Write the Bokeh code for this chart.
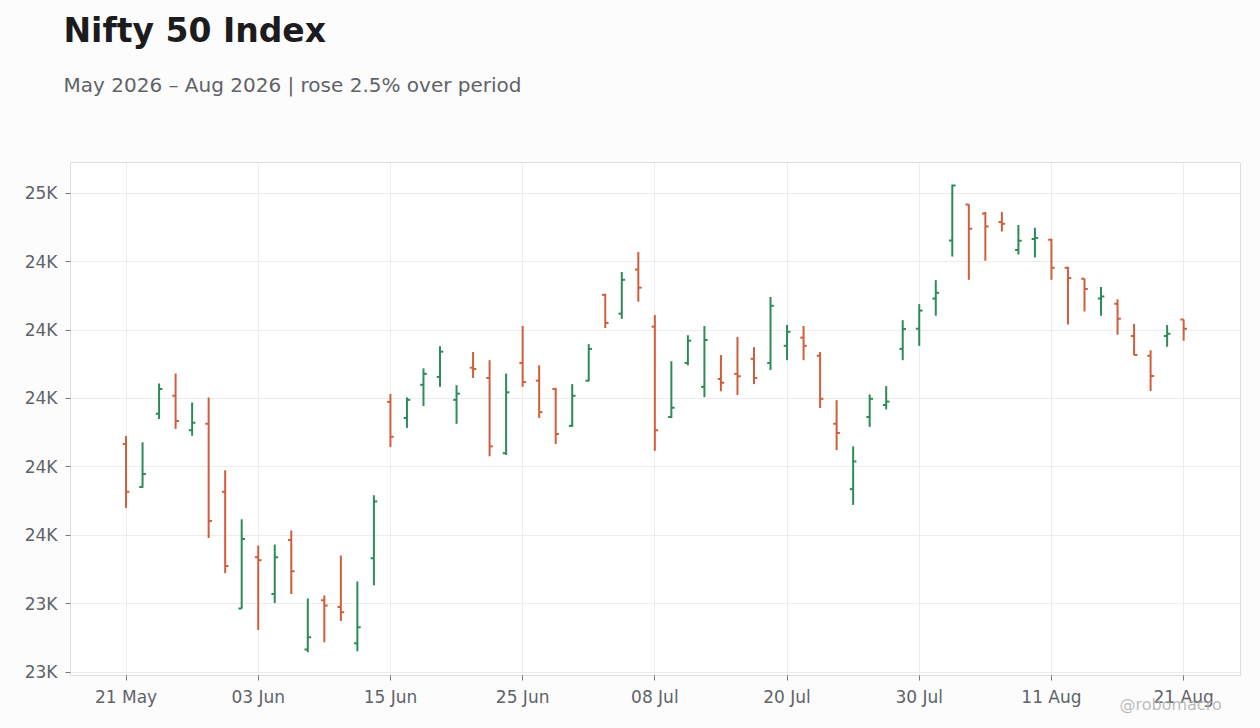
import pandas as pd
from bokeh.plotting import figure
from bokeh.models import ColumnDataSource, Range1d, FixedTicker, Label
from bokeh.embed import file_html
from bokeh.resources import INLINE

# trading days, 21 May - 21 Aug 2026 (no session on 25 May and 3 Jul)
dates = pd.bdate_range("2026-05-21", "2026-08-21", freq="C",
                       holidays=["2026-05-25", "2026-07-03"])

opens = [23867, 23741, 23955, 24008, 23907, 23926, 23727, 23386, 23536, 23428,
         23586, 23266, 23410, 23390, 23284, 23533, 23990, 23943, 24040, 24063,
         23996, 24090, 24060, 23840, 24104, 24052, 24028, 23920, 24052, 24303,
         24248, 24377, 24210, 23946, 24104, 24034, 24057, 24072, 24116, 24104,
         24154, 24178, 24125, 23926, 23735, 23946, 23981, 24145, 24204, 24292,
         24462, 24567, 24541, 24516, 24434, 24466, 24464, 24382, 24350, 24292,
         24277, 24183, 24125, 24183, 24231]
highs = [23890, 23872, 24044, 24073, 23988, 24003, 23790, 23647, 23570, 23573,
         23614, 23415, 23424, 23541, 23465, 23717, 24013, 24003, 24088, 24153,
         24039, 24136, 24112, 24073, 24212, 24097, 24031, 24042, 24159, 24306,
         24370, 24428, 24244, 24109, 24185, 24212, 24127, 24180, 24150, 24297,
         24215, 24212, 24136, 23995, 23860, 24012, 24036, 24229, 24276, 24346,
         24625, 24568, 24545, 24545, 24507, 24499, 24467, 24385, 24350, 24326,
         24290, 24218, 24141, 24215, 24231]
lows = [23680, 23739, 23940, 23911, 23891, 23592, 23489, 23386, 23323, 23402,
        23428, 23258, 23287, 23349, 23261, 23454, 23858, 23914, 23978, 24034,
        23926, 24060, 23831, 23835, 24034, 23943, 23867, 23917, 24050, 24206,
        24233, 24283, 23847, 23943, 24097, 24004, 24021, 24010, 24042, 24083,
        24112, 24112, 23972, 23849, 23689, 23917, 23968, 24112, 24154, 24242,
        24415, 24347, 24403, 24488, 24421, 24412, 24347, 24216, 24254, 24242,
        24186, 24127, 24022, 24151, 24169]
closes = [23727, 23779, 24028, 23934, 23929, 23642, 23510, 23589, 23527, 23536,
          23495, 23302, 23395, 23375, 23331, 23699, 23888, 23996, 24072, 24137,
          24014, 24086, 23860, 24018, 24048, 23960, 23896, 24008, 24145, 24221,
          24347, 24324, 23907, 23973, 24169, 24171, 24046, 24065, 24060, 24271,
          24195, 24154, 23999, 23899, 23816, 23999, 23991, 24203, 24257, 24309,
          24623, 24496, 24503, 24511, 24461, 24469, 24382, 24352, 24320, 24298,
          24233, 24127, 24066, 24189, 24204]

y_ticks = [23200, 23400, 23600, 23800, 24000, 24200, 24400, 24600]
y_tick_labels = ["23K", "23K", "24K", "24K", "24K", "24K", "24K", "25K"]
x_tick_step = 8

UP = "#2e8b57"
DOWN = "#cf5f3c"
TICK_W = 0.2

idx = list(range(len(dates)))
src = ColumnDataSource(dict(
    x=idx,
    xl=[i - TICK_W for i in idx],
    xr=[i + TICK_W for i in idx],
    o=opens, h=highs, l=lows, c=closes,
    color=[UP if c >= o else DOWN for o, c in zip(opens, closes)],
))

p = figure(width=1260, height=728, title=None, toolbar_location=None,
           output_backend="svg",
           x_range=Range1d(-3.36, 67.44), y_range=Range1d(23190, 24690),
           min_border_left=70, min_border_right=20,
           min_border_top=162, min_border_bottom=53)
p.background_fill_color = "white"
p.border_fill_color = "#fcfcfc"
p.outline_line_color = "#dddddd"

p.segment("x", "l", "x", "h", source=src, color="color", line_width=2)
p.segment("xl", "o", "x", "o", source=src, color="color", line_width=2)
p.segment("x", "c", "xr", "c", source=src, color="color", line_width=2)

x_ticks = idx[::x_tick_step]
p.xaxis.ticker = FixedTicker(ticks=x_ticks)
p.xaxis.major_label_overrides = {i: dates[i].strftime("%d %b") for i in x_ticks}
p.yaxis.ticker = FixedTicker(ticks=y_ticks)
p.yaxis.major_label_overrides = dict(zip(y_ticks, y_tick_labels))

for ax in (p.xaxis, p.yaxis):
    ax.axis_line_color = None
    ax.major_tick_line_color = "#777777"
    ax.major_tick_in = 0
    ax.major_tick_out = 5
    ax.minor_tick_line_color = None
    ax.major_label_text_font = "DejaVu Sans"
    ax.major_label_text_font_size = "17px"
    ax.major_label_text_color = "#5f6368"
p.xaxis.major_label_standoff = 6
p.yaxis.major_label_standoff = 8

p.grid.grid_line_color = "#ececec"
p.grid.grid_line_width = 1

# texts sit in side panels (not clipped); y counts up from each panel's bottom
p.add_layout(Label(x=-7, y=78, x_units="screen", y_units="screen",
                   text="May 2026 \u2013 Aug 2026 | rose 2.5% over period",
                   text_font="DejaVu Sans", text_font_size="20px",
                   text_color="#5f6368", text_baseline="alphabetic"), "above")
p.add_layout(Label(x=-7, y=108, x_units="screen", y_units="screen",
                   text="Nifty 50 Index", text_font="DejaVu Sans",
                   text_font_size="33px", text_font_style="bold",
                   text_color="#1c1c1e", text_baseline="alphabetic"), "above")
p.add_layout(Label(x=1049, y=24, x_units="screen", y_units="screen",
                   text="@robomacro", text_font="DejaVu Sans",
                   text_font_size="16px", text_color="#b0b0b0",
                   text_alpha=0.85, text_baseline="alphabetic"), "below")

open("out.html", "w").write(file_html(p, INLINE))
